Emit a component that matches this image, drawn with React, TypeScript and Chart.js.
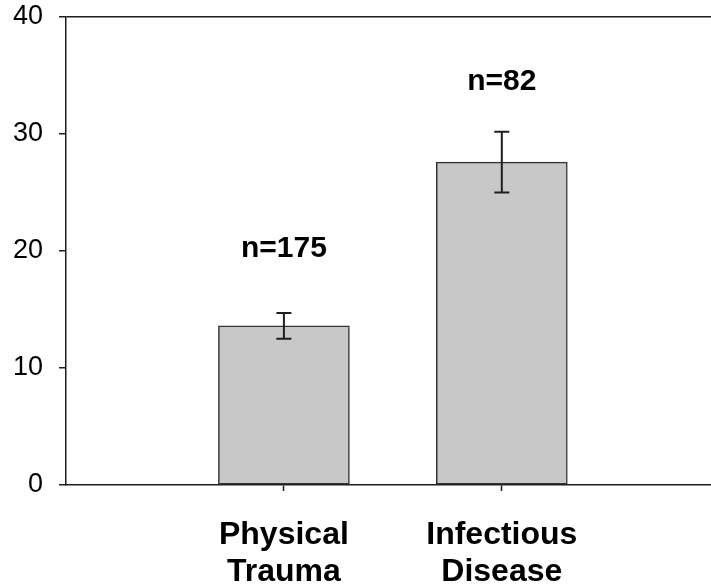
import React, { useEffect, useRef } from 'react';
import { Chart, registerables } from 'chart.js';

Chart.register(...registerables);

// Group data
const categoryLines = [['Physical', 'Trauma'], ['Infectious', 'Disease']];
const positions = [1, 2];
const means = [13.6, 27.6];
const errLower = [12.5, 25.0];
const errUpper = [14.7, 30.2];
const sampleLabels = ['n=175', 'n=82'];
const sampleLabelY = [19.5, 33.8];

// Axis settings
const yMin = 0;
const yMax = 40;
const yStep = 10;
const xMin = 0;
const xMax = 2.96;

const FONT = "'Liberation Sans', Arial, Helvetica, sans-serif";
const INK = '#1e1e1e';

// Error bars and sample-size labels drawn on top of the bars
const annotate = {
  id: 'annotate',
  afterDatasetsDraw(chart: any) {
    const { ctx } = chart;
    const x = chart.scales.x;
    const y = chart.scales.y;
    ctx.save();
    positions.forEach((p, i) => {
      const px = x.getPixelForValue(p);
      const top = y.getPixelForValue(errUpper[i]);
      const bot = y.getPixelForValue(errLower[i]);
      ctx.strokeStyle = INK;
      ctx.lineWidth = 2;
      ctx.beginPath();
      ctx.moveTo(px, top);
      ctx.lineTo(px, bot);
      ctx.moveTo(px - 7.5, top);
      ctx.lineTo(px + 7.5, top);
      ctx.moveTo(px - 7.5, bot);
      ctx.lineTo(px + 7.5, bot);
      ctx.stroke();

      ctx.fillStyle = '#000';
      ctx.font = `bold 30px ${FONT}`;
      ctx.textAlign = 'center';
      ctx.textBaseline = 'alphabetic';
      ctx.fillText(sampleLabels[i], px, y.getPixelForValue(sampleLabelY[i]));
    });
    ctx.restore();
  },
};

export default function App() {
  const canvasRef = useRef<HTMLCanvasElement | null>(null);

  useEffect(() => {
    if (!canvasRef.current) return;
    const chart = new Chart(canvasRef.current, {
      type: 'bar',
      data: {
        datasets: [
          {
            label: 'Mean',
            data: positions.map((p, i) => ({ x: p, y: means[i] })),
            backgroundColor: '#c8c8c8',
            borderColor: '#333333',
            borderWidth: 1.5,
            borderSkipped: false,
            barThickness: 131,
          },
        ],
      },
      options: {
        animation: false,
        responsive: true,
        maintainAspectRatio: false,
        layout: { padding: { top: 17, left: 0, right: 0, bottom: 0 } },
        plugins: {
          legend: { display: false },
          tooltip: { enabled: false },
        },
        scales: {
          x: {
            type: 'linear',
            min: xMin,
            max: xMax,
            offset: false,
            afterBuildTicks: (s: any) => {
              s.ticks = positions.map((v) => ({ value: v }));
            },
            afterFit: (s: any) => {
              s.height = 100;
            },
            border: { display: true, color: INK, width: 1.5 },
            grid: {
              offset: false,
              drawOnChartArea: false,
              drawTicks: true,
              tickLength: 6,
              tickColor: INK,
              tickWidth: 1.5,
            },
            ticks: {
              autoSkip: false,
              maxRotation: 0,
              padding: 25,
              color: '#000',
              font: { family: FONT, size: 32, weight: 'bold', lineHeight: 1.17 },
              callback: (v: any) => {
                const idx = positions.indexOf(Number(v));
                return idx >= 0 ? categoryLines[idx] : '';
              },
            },
          },
          y: {
            min: yMin,
            max: yMax,
            afterFit: (s: any) => {
              s.width = 66;
              s.paddingTop = 0;
              s.paddingBottom = 0;
            },
            border: { display: true, color: INK, width: 1.5 },
            grid: {
              drawOnChartArea: true,
              color: (c: any) => (c.tick && c.tick.value === yMax ? INK : 'rgba(0,0,0,0)'),
              lineWidth: 1.5,
              tickLength: 7,
              tickColor: INK,
              tickWidth: 1.5,
            },
            ticks: {
              stepSize: yStep,
              padding: 16,
              color: '#000',
              font: { family: FONT, size: 27 },
            },
          },
        },
      },
      plugins: [annotate],
    });
    return () => chart.destroy();
  }, []);

  return (
    <div style={{ position: 'fixed', left: 0, top: 0, width: 711, height: 585, background: '#fff' }}>
      <canvas ref={canvasRef} />
    </div>
  );
}
